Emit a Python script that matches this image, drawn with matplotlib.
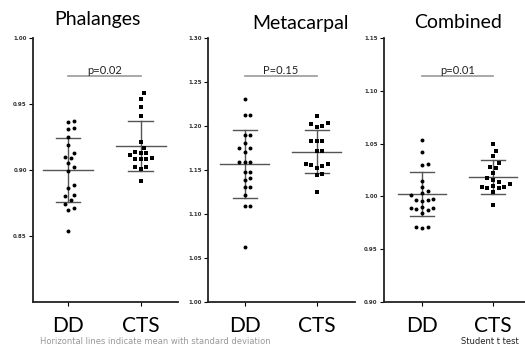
import matplotlib.pyplot as plt
import numpy as np

groups = ['DD', 'CTS']
titles = ['Phalanges', 'Metacarpal', 'Combined']
p_labels = ['p=0.02', 'P=0.15', 'p=0.01']

phal_dd = [0.937, 0.936, 0.932, 0.931, 0.925, 0.919, 0.913, 0.910, 0.909, 0.905, 0.902,
           0.899, 0.889, 0.886, 0.881, 0.880, 0.877, 0.874, 0.871, 0.870, 0.854]
phal_cts = [0.958, 0.954, 0.948, 0.941, 0.921, 0.917, 0.913, 0.913, 0.914, 0.911,
            0.908, 0.908, 0.908, 0.909, 0.901, 0.902, 0.902, 0.892]
meta_dd = [1.231, 1.212, 1.212, 1.190, 1.190, 1.181, 1.175, 1.175, 1.170, 1.159, 1.159,
           1.159, 1.148, 1.148, 1.141, 1.139, 1.131, 1.131, 1.122, 1.109, 1.109, 1.062]
meta_cts = [1.211, 1.203, 1.200, 1.199, 1.202, 1.183, 1.183, 1.183, 1.172, 1.172,
            1.157, 1.156, 1.152, 1.155, 1.157, 1.145, 1.144, 1.125]
comb_dd = [1.053, 1.042, 1.031, 1.030, 1.015, 1.009, 1.005, 1.003, 1.001, 0.998, 0.997,
           0.997, 0.996, 0.990, 0.989, 0.989, 0.988, 0.987, 0.984, 0.971, 0.970, 0.971]
comb_cts = [1.050, 1.043, 1.038, 1.032, 1.028, 1.027, 1.022, 1.017, 1.016, 1.014, 1.012,
            1.010, 1.009, 1.009, 1.008, 1.008, 1.004, 0.992]

data = [(phal_dd, phal_cts), (meta_dd, meta_cts), (comb_dd, comb_cts)]
means = [(0.900, 0.918), (1.157, 1.171), (1.002, 1.018)]
sds = [(0.024, 0.019), (0.039, 0.024), (0.021, 0.016)]
y_ranges = [(0.80, 1.00), (1.00, 1.30), (0.90, 1.15)]
y_ticks = [[0.85, 0.90, 0.95, 1.00],
           [1.00, 1.05, 1.10, 1.15, 1.20, 1.25, 1.30],
           [0.90, 0.95, 1.00, 1.05, 1.10, 1.15]]
p_bar_y = [0.971, 1.257, 1.114]

W, H = 525, 344
# axes boxes in pixels: left, right, top, bottom
boxes = [(33, 178, 38, 302), (208, 355, 38, 302), (384, 527, 38, 302)]
xlims = [(-0.48, 1.51), (-0.51, 1.53), (-0.535, 1.48)]
title_pos = [(97, 20), (300, 24), (458, 22)]

FONT = 'Lato'


def swarm(ax, x0, vals, gap=5.6):
    # simple beeswarm in pixel space, returns x positions in data units
    vals = np.asarray(vals)
    ypx = ax.transData.transform(np.column_stack([np.full(len(vals), x0), vals]))[:, 1]
    x_scale = ax.transData.transform([[1, 0]])[0, 0] - ax.transData.transform([[0, 0]])[0, 0]
    out = np.zeros(len(vals))
    placed = []
    for i in np.argsort(vals):
        for k in range(0, 40):
            cands = [0.0] if k == 0 else [k * gap / 2, -k * gap / 2]
            ok = None
            for c in cands:
                if all((c - px) ** 2 + (ypx[i] - py) ** 2 >= gap ** 2 for px, py in placed):
                    ok = c
                    break
            if ok is not None:
                break
        placed.append((ok, ypx[i]))
        out[i] = x0 + ok / x_scale
    return out


fig = plt.figure(figsize=(W / 100, H / 100), dpi=100)

for n in range(3):
    l, r, t, b = boxes[n]
    ax = fig.add_axes([l / W, 1 - b / H, (r - l) / W, (b - t) / H])
    ax.set_xlim(*xlims[n])
    ax.set_ylim(*y_ranges[n])
    for g in range(2):
        vals = data[n][g]
        xs = swarm(ax, g, vals)
        m, s = means[n][g], sds[n][g]
        ax.plot([g - 0.34, g + 0.34], [m, m], color='#555555', lw=1.0, zorder=2)
        ax.plot([g - 0.17, g + 0.17], [m + s, m + s], color='#555555', lw=1.0, zorder=2)
        ax.plot([g - 0.17, g + 0.17], [m - s, m - s], color='#555555', lw=1.0, zorder=2)
        ax.plot([g, g], [m - s, m + s], color='#555555', lw=1.0, zorder=2)
        ax.scatter(xs, vals, s=8, color='black', marker='o' if g == 0 else 's',
                   linewidths=0, zorder=3)
    ax.plot([0, 1], [p_bar_y[n]] * 2, color='#999999', lw=1.2)
    ax.text(0.5, p_bar_y[n], p_labels[n], ha='center', va='bottom', fontsize=8,
            color='#222222', family=FONT)

    for side in ['top', 'right']:
        ax.spines[side].set_visible(False)
    for side in ['left', 'bottom']:
        ax.spines[side].set_linewidth(1.3)
        ax.spines[side].set_color('#222222')
    ax.set_yticks(y_ticks[n])
    ax.set_yticklabels(['%.2f' % v for v in y_ticks[n]], fontsize=4, fontweight='bold',
                       color='#333333')
    ax.tick_params(axis='y', length=3, width=0.8, pad=1.5)
    ax.set_xticks([0, 1])
    ax.set_xticklabels(groups, fontsize=15, family=FONT)
    ax.tick_params(axis='x', length=3, width=0.8, pad=7)

    tx, ty = title_pos[n]
    fig.text(tx / W, 1 - ty / H, titles[n], ha='center', va='center', fontsize=14,
             family=FONT)

fig.text(40 / W, 1 - 341 / H, 'Horizontal lines indicate mean with standard deviation',
         fontsize=6, color='#999999', va='center')
fig.text(461 / W, 1 - 341 / H, 'Student t test', fontsize=6, color='#222222', va='center')

fig.savefig('out.png', dpi=100)
